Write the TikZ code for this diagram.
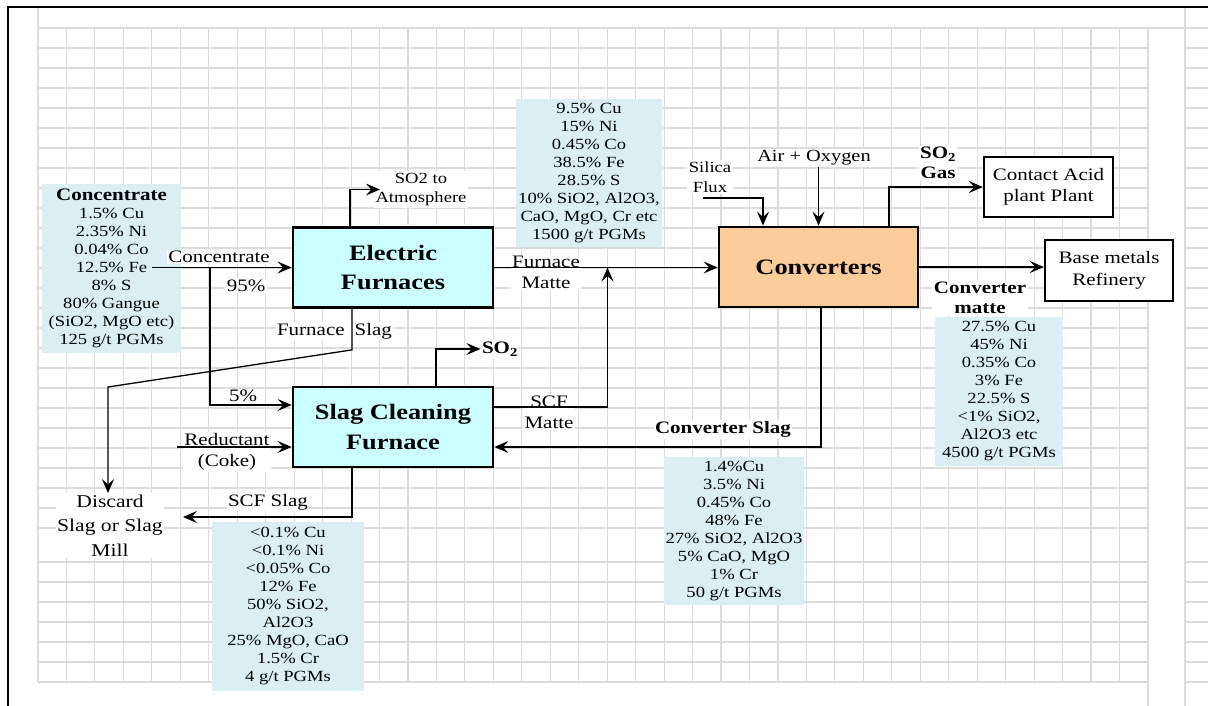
\documentclass[tikz,border=0pt]{standalone}
\usepackage{fontspec}
\setmainfont{Liberation Serif}[FakeStretch=1.2]
\usetikzlibrary{arrows.meta,calc,positioning}
\definecolor{compblue}{RGB}{218,238,243}
\definecolor{furncyan}{RGB}{204,255,255}
\definecolor{convpeach}{RGB}{252,204,153}
\definecolor{gridgray}{RGB}{220,220,220}

\begin{document}
\begin{tikzpicture}[x=1pt,y=-1pt,
  gridline/.style={gridgray,line width=1.1pt},
  comp/.style={fill=compblue,inner sep=0pt,align=center,font=\fontsize{15.5}{18}\selectfont},
  unit/.style={draw,line width=2.8pt,inner sep=0pt,align=center,
    font=\bfseries\fontsize{22}{29.5}\selectfont,minimum width=200pt,minimum height=80pt},
  dest/.style={draw,line width=2.4pt,fill=white,inner sep=0pt,align=center,
    font=\fontsize{17.5}{21.5}\selectfont},
  lbl/.style={fill=white,inner sep=1.5pt,align=center,font=\fontsize{17.5}{21}\selectfont},
  sml/.style={lbl,font=\fontsize{15.5}{19.5}\selectfont},
  flow/.style={-{Stealth[length=14pt,width=12pt,inset=5.5pt]},line width=1.3pt}]
  \useasboundingbox (0,0) rectangle (1208,706);

  % sheet grid and frame
  \foreach \gx in {0,...,39}
    \draw[gridline] ({38+28.46*\gx},28) -- ({38+28.46*\gx},682);
  \foreach \gy in {28,48,...,528,562,582,...,682} {
    \draw[gridline] (38,\gy) -- (1148,\gy);
    \draw[gridline] (1185,\gy) -- (1208,\gy);
  }
  \draw[gridline] (38,8) -- (38,28) (1148,682) -- (1148,706) (1185,8) -- (1185,706) (1148,28) -- (1185,28);
  \draw[line width=2.5pt] (8,706) -- (8,7) -- (1208,7);

  % compositions
  \node[comp,minimum width=139pt,minimum height=169pt] (feed) at (111.5,268.5)
    {{\bfseries\fontsize{17.5}{18}\selectfont Concentrate}\\1.5\% Cu\\2.35\% Ni\\0.04\% Co\\12.5\% Fe\\8\% S\\80\% Gangue\\(SiO2, MgO etc)\\125 g/t PGMs};
  \node[comp,minimum width=146pt,minimum height=148pt] (fmatte) at (589,173)
    {9.5\% Cu\\15\% Ni\\0.45\% Co\\38.5\% Fe\\28.5\% S\\10\% SiO2, Al2O3,\\CaO, MgO, Cr etc\\1500 g/t PGMs};
  \node[comp,minimum width=128pt,minimum height=149pt] (cmatte) at (999,391.5)
    {27.5\% Cu\\45\% Ni\\0.35\% Co\\3\% Fe\\22.5\% S\\<1\% SiO2,\\Al2O3 etc\\4500 g/t PGMs};
  \node[comp,minimum width=140pt,minimum height=148pt] (cslag) at (734,531)
    {1.4\%Cu\\3.5\% Ni\\0.45\% Co\\48\% Fe\\27\% SiO2, Al2O3\\5\% CaO, MgO\\1\% Cr\\50 g/t PGMs};
  \node[comp,minimum width=152pt,minimum height=169pt] (sslag) at (288,606.5)
    {<0.1\% Cu\\<0.1\% Ni\\<0.05\% Co\\12\% Fe\\50\% SiO2,\\Al2O3\\25\% MgO, CaO\\1.5\% Cr\\4 g/t PGMs};

  % units
  \node[unit,fill=furncyan] (ef) at (393,267.5) {Electric\\Furnaces};
  \node[unit,fill=furncyan] (scf) at (393,427) {Slag Cleaning\\Furnace};
  \node[unit,fill=convpeach,minimum width=199pt] (conv) at (818.5,267) {Converters};
  \node[dest,minimum width=129pt,minimum height=60pt] (acid) at (1048.5,187) {Contact Acid\\plant Plant};
  \node[dest,minimum width=128pt,minimum height=61pt] (bmr) at (1109,270.5) {Base metals\\Refinery};

  % stream labels
  \node[lbl] (lconc) at (219,257) {Concentrate};
  \node[lbl] (l95) at (246,286) {95\%};
  \node[lbl] (l5) at (243,396) {5\%};
  \node[lbl] (lred) at (227,452) {Reductant\\(Coke)};
  \node[lbl] (lfslag) at (334.5,331) {Furnace\hspace{10pt}Slag};
  \node[lbl] (lsslag) at (268,502) {SCF Slag};
  \node[lbl] (lsmatte) at (549,412) {SCF\\Matte};
  \node[lbl] (lfmatte) at (546,272.5) {Furnace\\Matte};
  \node[lbl,font=\bfseries\fontsize{17.5}{21}\selectfont] (lcslag) at (723,429) {Converter Slag};
  \node[lbl,font=\bfseries\fontsize{17.5}{19.5}\selectfont] (lcmatte) at (980,298) {Converter\\matte};
  \node[lbl,font=\bfseries\fontsize{17.5}{19.5}\selectfont] (lgas) at (938,163) {SO\textsubscript{2}\\Gas};
  \node[sml] (latm) at (421,189.5) {SO2 to\\Atmosphere};
  \node[sml] (lflux) at (710,177) {Silica\\Flux};
  \node[lbl,font=\fontsize{17}{20}\selectfont] (lair) at (814,158) {Air + Oxygen};
  \node[lbl,font=\bfseries\fontsize{17.5}{20}\selectfont] (lso2) at (500,349) {SO\textsubscript{2}};
  \node[lbl,font=\fontsize{18}{24.5}\selectfont] (discard) at (110,525.5) {Discard\\Slag or Slag\\Mill};

  \coordinate (feedout) at (152,267.5);
  \coordinate (split) at (210,267.5);
  \coordinate (cokein) at (177,447);
  \coordinate (fmjoin) at (607.5,267.5);
  \coordinate (slagbend) at (108,387);
  \coordinate (discin) at (183,517);
  \coordinate (fluxin) at (703,198);

  % streams
  \draw[flow] (feedout) -- (ef.west);
  \draw[flow] (split) |- ([yshift=22pt]scf.west);
  \draw[flow] (cokein) -- (cokein -| scf.west);
  \draw[flow] ([xshift=-43pt]ef.north) |- ([xshift=6pt]latm.west);
  \draw[flow] (ef.east) -- (ef.east -| conv.west);
  \draw[flow] ([yshift=20pt]scf.east) -| (fmjoin);
  \draw[flow] ([xshift=43pt]scf.north) |- (lso2.west);
  \draw[flow] ([xshift=-41pt]ef.south) -- ++(0,41) -- (slagbend) -- (slagbend |- discard.north);
  \draw[flow] ([xshift=-41pt]scf.south) |- (discin);
  \draw[flow] ([xshift=2.5pt]conv.south) |- ([yshift=-20pt]scf.east);
  \draw[flow] (conv.east) -- (conv.east -| bmr.west);
  \draw[flow] (fluxin) -| ([xshift=-55.5pt]conv.north);
  \draw[flow] (conv.north |- lair.south) -- (conv.north);
  \draw[flow] ([xshift=70.5pt]conv.north) |- (acid.west);
\end{tikzpicture}
\end{document}
